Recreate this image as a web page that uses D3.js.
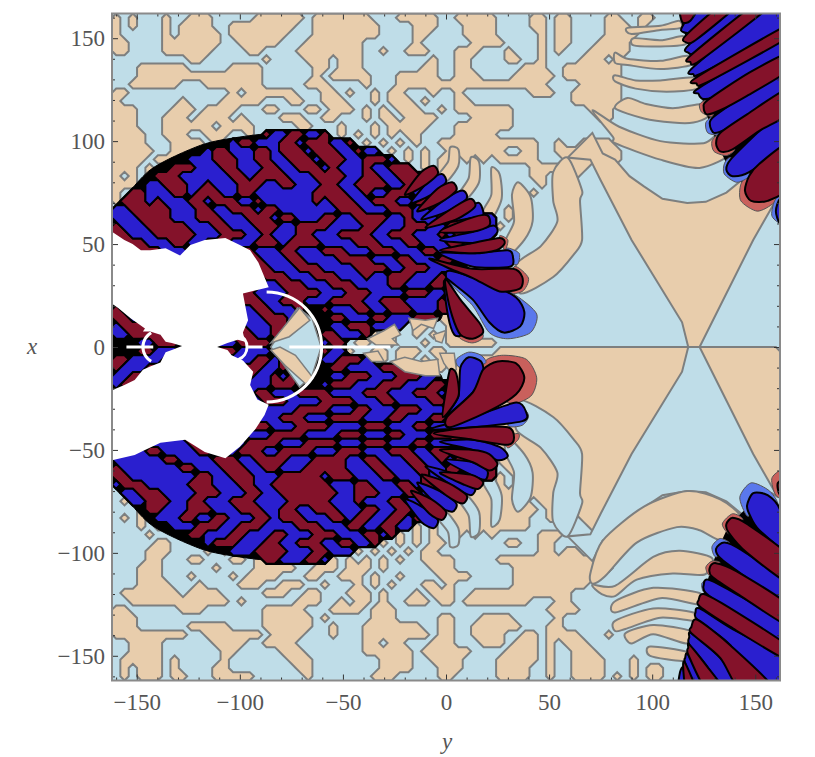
<!DOCTYPE html>
<html>
<head>
<meta charset="utf-8">
<script src="https://cdn.jsdelivr.net/npm/d3@7"></script>
<style>
body { margin: 0; background: #fff; }
text { font-family: "Liberation Serif", serif; fill: #555; }
</style>
</head>
<body>
<div id="chart"></div>
<script>
// sign of the function on a coarse sample grid
// t tan, . pale blue, R dark red, B dark blue. a short row repeats its last character
var fieldRows = [
"t.t...t..t tt.....ttt ttt.tttttt t...ttttt. .ttttt.... tt.tt....t t..tt.....",
"t.t...t.tt tt..tttttt tt..tttttt tt....ttt. ..tttt.... tt.tt....t tt.t......",
"t.....t.tt ttt.tttttt t...tttttt tt....tt.. ..tttt.... .t.tt....t ttt.......",
"tt....tttt ttt..ttttt ...ttttttt ......t... ...tttt... .t.tt...tt tt........",
"tt....tttt tt....tt.. ..tttttttt ..t..ttt.. .ttt...t.. .t.t...ttt tt........",
".........t t.......t. ...ttt.ttt ........t. .tt....tt. .t....ttt. t.........",
"...tttttt. ....tttt.. ....tt.ttt .......tt. .tt......t tt..tttttt t.........",
"...ttttttt tttttttt.. ....t.tttt t...ttttt. .ttt....tt ttt.tttttt t.........",
"..tttttt.. .ttttttt.. ...ttt.... t...tttttt tttttttttt tt....tttt t.........",
"tt........ ....t.tttt tt...tt.t. .t.tt...t. .t........ ttt..ttttt t.........",
"t.......t. ...ttttt.. .tt..ttt.. .t.ttt.t.. .tt....... .....ttttt t.........",
"ttt....ttt .tttt...tt ...tt.ttt. t.t.ttt..t .ttttttt.. .......ttt .",
"ttt...ttt. tttt.t.... ttt..tt... t.tt.tttt. ...ttttt.. ........tt .",
"ttt...tttt tt.tttt... ..tt...t.. .t.ttttt.. .ttttttt.. .",
"tttt..ttt. .ttt..t.RB BRRBBR.t.t .t.t.tt... .ttttt.... .",
"tttt...ttt t.t.BRRBBB RRBRRRBBR. t.t.t.t..t tttttttttt t..t..tttt .",
"ttttt..ttt tBRRBBBRRB RRRBRRRBBR BB.t.t.t.. ttttttt..t t..ttttttt t.",
"tttt.ttt.B BBRRRBBRRB BRRRBRRRBB RRRB.t.t.t t.t.t.tttt t...tttttt t.",
"ttt.t..RRR BBBRRBBBRR BBRRRBRBBB RBBRRR.t.t .......... tttt.tt...",
"t.t.tRRRBB BBBBRRBRRR RBBBRRRRBB RRBBRRRB.t .......... tt..tt....",
"ttt.BBRRRB BRBBBRRRBB RRBBBRRBBR RRRBBRBBR. .......... .t.t......",
"t.RRBBBRRB RRRBBRRBBB BBBBRRRRBB RBBRRRBBRB B......... t.",
"tRRRBRBBBR RBRRRBBRBB BBBBRBRRRB BRRRBBRRBB BR........",
"BBRRRRRBBB RRBBRRRBRR BBBBBBBRRR BBBRRRBBRR RBRB.t.t..",
"BBBRRRRBBB RRRBBBRRRB RRBBBRRBBR RRRBBRBBBR BRBRBB.t..",
"RBBBRRRRRB BBRRBBBRRR BBRRRRBBBB RRBBBRRRBB RRBBRBt...",
"RRBBBRRRRR BBBRRRBBRB BBRRBBBRRR RBBRRRBBBR BRRBBR....",
"RRRRBBBRRB BRRRBBBRRR BRRRRBBBBR RRBBBRRBBB RRBBR.....",
"RRRRRRBBBR BBBRRRRBBB RRBBBRRRBB BRRRBBBRRB BR........",
"BRRRRRRRBB RRBBBRRRBB BRRBBBBRRR RBBBRRBBBR RB........",
"BBBRRRRRRB BRRRBBRRRB BBRRRBBBBR RRRBBRRRBB B.........",
"RBBBBRRRRR BBBRRRBBRR RBBBRRRBBB RBBRRRBBBR .",
"RRBBBBRRRR RRBBBRRRBB RRRBBBRRRB BBBRRBBBRR .",
"BRRRBBBRRR RRRBBRRBBB BRRRRBBBRR RBBBBRRRBB .",
"BBRRRRBBBR RRBBBRRRBB RRRBBBRRRR BBRRRBBBBR .",
"RBBBRRRBBB RRRRBBBRRB BBRttRBBBR RBBRRRBBBR R.",
"RRBBBBRRBB BRRRRBBBRR RBt..tRRBB BRRBBBRRRt t.",
"BRRRBBBRRB BBRRRRBBBR RBt.t.BBRR RBBBB.tt.. t.",
"BBRRRRBBRR BBBRRRRBBR Btt..RRBBB Rt.t..t.t. ttt.",
"t.tBBRRRBB RRBBBRRRRB .tt..BRR.t t..t...t.. tttttt....",
".t.RRBBBRR BBRRRBBBBR t..ttRBBt. .tt.ttt.tt ......tttt",
"RRBBBBRRBB RRRBBBBRRB R..ttBBRRR B.t.tt.t.t ...t",
"RBBBRRRBBR RBBBBRRRBB RB.t.tRRBB BBRRRt..tt .t",
"BBRRRBBBRR BBBBRRRBBR BR.tt.BBRR RBBBRRRBB. .t",
"BRRRBBBRRR RBBBRRBBBR RRB..BRRRB BBRRRBBBRR Bt",
"RBBBRRRBBB BRRRBBBRRB BBRRRRBBBB RRRBBBRRRB t",
"RRBBBBRRRB BBRRRRBBRR RBBBBRRRRB BBRRBBBBRR t",
"BBRRRBBBRR RBBBBRRRBB BBRRRRBBBR RBBBRRRBBB t",
"BBBRRRRBBB RRRBBRRBBB RRRBBBRRRR BBBRRBBBRR t",
"RBBBBRRRBB BRRBBBRRRB BBRRRRBBBB RRRBBBRRBB Bt",
"RRBBBBBRRR BBBRRRBBBR RRRBBBBRRR BBBRRBBBRR RRt",
"BBRRBBBBBR RRRBBBRRRR BBBRRRRBBB RRRBBBRRBB BRt",
"BBBBRRBBBB RRBBBRRRBB RRRRBBBRRR BBBRRRBBRR RBRBRt",
"BBBBBBRRBB BBRRRBBRRR RBBBRRRRBB RRBBBRRBBR BRRBBRt",
"RBBBBBBBRR BBBRRRBBRR BBBRRRRRBB BRRBBBRRBB RRBRBR.t",
"RRBBBBBBBB RRBBRRRBBB RRRRRBRRRB BBRRBBBRBB RBRBRRt.t",
"BRRRBBBBBR RRBBBRRBBR RRRRRRBBBR RBBBRRBRRB BRBRt.t.t",
".BBRRRBBBB RRRBBBRRBB RRRRRRRBBR RRBBBRRBBB RBtttttttt tttttttttt .",
".tBBRRRBBR RBBBRRRBBB BRRRRRBBBR BBBRRBBRRB Rttttttttt .ttttttttt .",
"...tRRBBBR RRBBBRRRBB RRBBRRRBBB RRBBRRBBBt tttttttttt t.t.tttttt .",
".t.t.BBBRR BBRRBBBRRB RRRBBBRRBR RBBRRBRRt. tttttttttt ..tt..tttt .",
"...t.ttBBB RRRBBRRRBB BBRRRBBBRR BBRRBBt.t. tttttttttt ....t..ttt .",
"....t...tR RBBBRRBBBR RBBBRRRBBB RRBRt.t.t. .t.t.t.... .ttt......",
".....tt... .BRRRBBBRR BBRRRBBRRB BRt.t.t.tt .......tt. .tt.......",
"....ttt... .t.tBBBRRR RBBBRRBBBt .t.t.t.tt. .......... .tt.tt....",
"....tt...t t...tt.tRR BBBRRBt.t. t.t.t..ttt t.....tttt tttttttttt .",
"...ttt.... ..t....ttt tt..ttt.tt t.t.....tt t.......tt tttttttttt .",
"...ttt...t ....t.tttt ...tt..ttt .t..t....t ttt.....tt tttttttt.. .",
"...tttt... t....ttt.. ttt..t...t .t.t...tt. t.......tt ttttttt... .",
".ttttttt.t ttt.....tt t..tt...tt t.t...t.tt t..ttttttt ttttt..... .",
"..tttttttt tttt.t.... ..ttt..t.t t.t..ttt.t t.tttttttt ...tt..... .",
"tt......tt t.......tt ttt...tttt .ttt...... .......... ..tttt.... .",
"ttt....... ........tt tttt.t.... .ttt.....t t...tttt.. ...t...... .",
"ttt......t tttt....tt tttt..t... ttttttt..t t..tttttt. ..tt...... .",
"ttttttttt. .ttttttt.t ttt...t... tttttttt.t t..tttt..t t.tttt...t .",
"..tttt.... ..tttt..tt tt........ tt.tt...tt t...ttt.tt t.t.ttt... .",
"..tttt.... ...tt..... ttt....... tttttt.ttt ttt....ttt t.t..ttt.. .",
".ttttt.t.. ...t...... .ttt...... ..tttt..tt tt....tttt t.t..tttt. ..t.......",
".t.ttt.t.. ..tt...... ..tt...... ..tttt...t tt....tttt ..t..tttt. ..t.tt....",
".t.ttt.tt. ..ttttt... ...t...... .ttt.....t t.....tttt ..t..tttt. t.t.tt...."
];
var gridSize = 80;

// tick values of the frame
var majorTicks = [-150, -100, -50, 0, 50, 100, 150];
var minorTicks = [-160, -140, -130, -120, -110, -90, -80, -70, -60, -40, -30, -20, -10, 10, 20, 30, 40, 60, 70, 80, 90, 110, 120, 130, 140, 160];

// smooth parts on the right, points are [y, x]
var tanAngular = [
  [[71,104],[76,94],[82,91],[89,83],[96,78],[105,72],[117,70],[126,70.5],[136,75],[147,84],[158,71],[161,73],[149,52],[123,0],[117.5,0],[114.5,12],[90,52],[75,81],[70,91],[59,92]]
];
var blueAngular = [
  [[71,-104],[76,-94],[82,-91],[89,-83],[96,-78],[105,-72],[117,-70],[126,-70.5],[136,-75],[147,-84],[158,-71],[161,-73],[149,-52],[123,0],[117.5,0],[114.5,-12],[90,-52],[75,-81],[70,-91],[59,-92]]
];
var blueSmooth = [
  [[36,-26],[52,-34],[62,-45],[66,-52],[65,-71],[66,-76],[59,-92],[52,-85],[52,-71],[54,-61],[46,-49],[34,-40]],
  [[29,-43],[38,-52],[42,-61],[41,-73],[35,-80],[32,-74],[33,-61],[29,-52]],
  [[22,-62],[27,-72],[26,-84],[22,-87],[22,-74],[18,-66]],
  [[10,-72],[16,-80],[16,-90],[12,-92],[11,-82],[6,-74]],
  [[0,-80],[6,-88],[6,-96],[2,-97],[1,-90],[-4,-83]]
];
var tanSmooth = [
  [[36,26],[52,34],[62,45],[66,52],[65,71],[66,76],[59,92],[52,85],[52,71],[54,61],[46,49],[34,40]],
  [[29,43],[38,52],[42,61],[41,73],[35,80],[32,74],[33,61],[29,52]],
  [[22,62],[27,72],[26,84],[22,87],[22,74],[18,66]],
  [[10,72],[16,80],[16,90],[12,92],[11,82],[6,74]],
  [[0,80],[6,88],[6,96],[2,97],[1,90],[-4,83]],
  [[71,115],[84,107],[104,100],[125,99],[133,104],[138,94],[123,87],[104,91],[82,99],[81,102]],
  [[88,121],[97,118],[110,116],[125,118],[127,112],[120,109],[110,109],[96,111],[82,116]],
  [[82,132],[92,129.5],[104,129.5],[121,131],[122,125.5],[107,124],[92,125.5],[82,129]],
  [[82,143],[88,140],[104,139],[117,141.5],[119,137],[104,135],[88,137],[82,138]],
  [[91,150],[104,149],[115,151],[116,147],[104,146],[91,146.5]],
  [[88,155],[104,156],[113,158.5],[114,155],[104,154],[90,152]],
  [[70,-110],[76,-94],[96,-77.5],[117,-70],[133,-74],[143,-83],[134.5,-94],[123,-89],[112,-87.5],[92.5,-95],[77,-111.5],[71,-115]],
  [[82,-116],[100.5,-102],[113.5,-99],[129,-102.5],[125.5,-110.5],[110,-110],[92.5,-113],[82,-121],[75.5,-120],[71,-115.5]],
  [[82,-123.5],[100.5,-117],[123,-119.5],[122.5,-125],[104,-122],[82,-129]],
  [[82,-133],[100.5,-127],[120,-129],[121,-133],[104,-131.5],[87,-137],[82,-138]],
  [[87,-139],[100.5,-135],[118.5,-138],[116.5,-144],[100.5,-139.5],[90,-144]],
  [[99,-145.5],[116.5,-148],[115,-152.5],[99,-150]]
];

// black ground under the dark disc and the two corner fans
var blackDisc = [[-167,64],[-162,65.5],[-143.5,86],[-119,98],[-100,102],[-80.5,104],[-61,103],[-46.5,98],[-22,86],[2,66.5],[21,52],[11.5,40],[0.5,34],[-3,13],[-22,14],[-32,10.7],[-42,6],[-51,0.5],
  [-42,-6],[-32,-10.7],[-22,-14],[-3,-13],[0.5,-34],[11.5,-40],[21,-52],[2,-66.5],[-22,-86],[-46.5,-98],[-61,-103],[-80.5,-104],[-100,-102],[-119,-98],[-143.5,-86],[-162,-65.5],[-167,-64]];
var blackFans = [
  [[113,167],[114.5,156],[116.5,150],[118.5,143],[120.5,135],[122.5,126],[125,118],[128,108],[131.5,99],[137,87],[146,77],[152,73],[167,80],[167,167]],
  [[113,-167],[114.5,-156],[116.5,-150],[118.5,-143],[120.5,-135],[122.5,-126],[125.5,-118],[128.5,-108],[131.5,-99],[137,-87],[146,-78],[152,-74],[167,-80],[167,-167]]
];

// pale wedge inside the white circle, and the tan patches in the eye on the axis
var wedgeBlue = [[[-85,0],[-72,19],[-65,14],[-60.5,0],[-65,-14],[-71,-19.5]]];
var wedgeTan = [
  [[-85,2],[-71,19],[-66,13],[-76,5]],
  [[-85,-1.5],[-78,-9],[-68,-18],[-64.5,-15],[-73,-4],[-80.5,0]]
];
var eyeTan = [
  [[-38,4],[-30,8],[-25,11],[-22,6],[-26,4],[-23,1],[-34,1]],
  [[-18,14],[-10,13],[-4,14],[-6,9],[-12,11],[-16,8]],
  [[-6,6],[0,8],[-2,2],[-5,3]],
  [[-27,-7],[-20,-5],[-12,-7],[-4,-6],[-3,-14],[-10,-14],[-20,-12]],
  [[-3,-3],[4,-3],[5,-11],[2,-12],[-1,-8]],
  [[-40,-3],[-33,-2],[-30,-7],[-36,-7]]
];

// pale halos round the lobe tips
var paleRed = [
  [[7,20],[18,6],[13,2],[6,5],[2,16]],
  [[33,39],[40,33.5],[37,27],[28.5,26.5]],
  [[26,54],[30,52],[28.5,47]],
  [[147,83],[143,79],[143,71],[151,66],[159,70],[162,76],[155,80]],
  [[133,104],[129,100],[130,95],[136,93],[140,96],[135,100]],
  [[127,120],[123,118],[124,114],[129,112],[130,116]],
  [[20,-6],[28,-4],[39,-6],[44,-15],[41,-24],[30,-27],[18,-12]],
  [[35,-42],[35,-45],[30,-49],[28,-44]],
  [[134,-86],[139,-81],[144,-84],[138,-91]],
  [[126,-107],[129,-104],[133,-105],[128,-111]],
  [[160,-72],[158,-64],[162,-60],[167,-60],[167,-75]]
];
var paleBlue = [
  [[0,34],[21,31],[34,25],[44,16],[41,7],[30,4],[21,7],[13,20]],
  [[29.5,48],[35.5,45.5],[34.5,40],[29,42]],
  [[138,92],[135,89],[135,84],[141,80],[147,83],[145,88]],
  [[130,112],[126,109],[127,104],[133,103],[134,106]],
  [[160,72],[158,64],[162,60],[167,60],[167,75]],
  [[5,-6],[11,-2.5],[17,-4],[19,-8],[7,-10]],
  [[34,-27],[40,-33],[37,-38],[30,-38]],
  [[142.5,-73],[148,-66],[157,-70],[161,-77.5],[150,-80],[146,-82]],
  [[129,-97],[133,-93],[138,-96],[131,-102]],
  [[124,-115],[126.5,-113],[128,-115],[125,-119]]
];

// dark lobes, near the axis first then the two fans in the corners
var lobeBlue = [
  [[-1,32],[4,27],[7,20],[9,12],[8,6],[4,6],[1,15]],
  [[0,34],[2,37],[21,31],[34,24],[38,17],[36,10],[28,7],[21,12],[13,23],[2,32]],
  [[-3,45.5],[13,45.5],[30,47],[32.5,43.5],[31,39],[13,39]],
  [[-3,52],[13,56],[23,59],[25,56],[21,52],[13,50.5]],
  [[-3,60],[9,67],[16,70],[18,64],[11.5,62.5]],
  [[-12,62],[0,72],[8,76],[10,72],[1,66]],
  [[-17,70],[-8,81],[-2,84],[0,80],[-7,74]],
  [[-14,-66],[-4,-77],[3,-80],[5,-76],[-3,-70]],
  [[-20,-74],[-12,-85],[-6,-88],[-4,-84],[-11,-78]],
  [[-10,-58],[4,-68],[12,-72],[14,-68],[5,-62]],
  [[162,114],[151,104],[138,91],[136,86],[139,83],[147,85],[167,99],[167,114]],
  [[167,135],[149,125],[130,112],[128,108],[130,104],[136,106],[147.5,113],[167,127]],
  [[167,151],[123,126],[122.5,123],[125,120.5],[133,123],[167,143]],
  [[159,167],[120,136],[120,132.5],[125,133.5],[167,157]],
  [[142.5,167],[117.5,146.5],[117.5,143],[122.5,144],[150.5,167]],
  [[123,167],[114.5,155.5],[115,153],[120,153.5],[134.5,167]],
  [[162,60],[160,66],[162,72],[167,72],[167,60]],
  [[0.5,-33],[6,-24],[7,-10],[11,-5],[17,-7],[18,-13],[13,-22]],
  [[-8,-40],[13,-34],[34,-27],[39,-32],[37,-36],[13,-39]],
  [[-3,-46],[13,-45],[26,-48.5],[30,-53],[25,-55],[13,-50]],
  [[0,-55],[13,-56],[20,-60],[19,-64.5],[12,-62]],
  [[146,-77],[149,-71],[156,-72],[162,-79],[167,-100],[152,-89],[147.5,-82]],
  [[131,-98],[135,-95],[143,-98.5],[167,-115.5],[167,-126],[143,-110],[133,-102.5]],
  [[125,-115.5],[127,-113],[139,-119],[167,-136],[167,-146],[139,-129],[126,-119.5]],
  [[121,-129],[123,-127],[138,-136.5],[167,-153],[167,-167],[152,-167],[138,-145],[122,-132.5]],
  [[118,-141],[119,-139],[133,-151],[143,-167],[135,-167],[126.5,-155],[118,-144.5]],
  [[116,-151],[117.5,-149.5],[126.5,-167],[121.5,-167],[116,-153.5]],
  [[113.5,-158],[115,-156],[116.5,-167],[112.5,-167]]
];
var lobeRed = [
  [[0,33],[7,23],[16,12],[18,7],[13,4],[7,6],[3,15],[0,28]],
  [[-8,43],[13,38],[32.5,38],[37,34],[36,28.5],[26,27],[13,33.5],[2,38]],
  [[-3,47],[13,50.5],[26,53],[28.5,50.5],[24.5,47],[13,45.5]],
  [[-3,56],[11.5,62.5],[20,64],[21,59],[13,56]],
  [[-10,58],[4,68],[12,72],[14,68],[5,62]],
  [[-14,66],[-4,77],[3,80],[5,76],[-3,70]],
  [[-20,74],[-12,85],[-6,88],[-4,84],[-11,78]],
  [[-12,-62],[0,-72],[8,-76],[10,-72],[1,-66]],
  [[-17,-70],[-8,-81],[-2,-84],[0,-80],[-7,-74]],
  [[167,99],[152,89],[147,83],[145,76],[148,71],[156,71],[167,78]],
  [[167,126],[146,113],[133,104],[131,99],[133,95],[139,96],[152,105],[167,114]],
  [[167,143],[147.5,133.5],[127,120],[125,116.5],[126.5,113],[133,115],[146,122],[167,135]],
  [[167,157],[121.5,131],[121.5,128],[126.5,128.5],[167,151]],
  [[150.5,167],[118.5,141.5],[118.5,138.5],[123,139],[159,167]],
  [[134.5,167],[116,151],[116.5,148],[121,149],[142.5,167]],
  [[113.5,167],[114.5,158],[118.5,158.5],[123,167]],
  [[2,-11],[5,-13],[6,-24],[-1.5,-34],[0,-21]],
  [[0.5,-34],[13,-22],[18,-11],[25,-7],[34,-8],[38,-15],[34,-23],[21,-31],[2,-39]],
  [[-6,-42],[13,-39],[30,-39],[33,-44],[30,-47.5],[13,-45]],
  [[-3,-50],[13,-50],[21,-52],[25,-57],[21,-60],[13,-56]],
  [[-3,-61],[12,-62],[18,-65.5],[15.5,-69],[9,-67]],
  [[162,-72],[161,-66],[167,-64],[167,-75]],
  [[136,-86],[139,-83],[146,-86],[167,-102],[167,-115],[146,-100],[137,-90]],
  [[128,-107],[131,-105],[141,-109],[167,-126],[167,-136],[143,-121],[129,-111.5]],
  [[122.5,-123],[125,-120],[138,-127],[167,-146],[167,-153],[138,-136],[123,-126]],
  [[119,-136],[122,-132.5],[138,-145],[160,-167],[143,-167],[133,-151],[119,-139]],
  [[117.5,-146],[118,-144.5],[126.5,-155],[135,-167],[126.5,-167],[117.5,-149.5]],
  [[115,-155],[116,-153.5],[121.5,-167],[116.5,-167]]
];

// region where nothing was computed
var whiteRegion = [[-167,56],[-162,56],[-156,52],[-152,50],[-148,47],[-143.5,47],[-136,48],[-129,44.5],[-124,49.5],[-117,52],[-107,53],[-100,49.5],[-95,47],[-91,41],[-86,29],
  [-98.5,26],[-96,13],[-98.5,7],[-97.5,2.5],[-101,3.5],[-106,2],[-111,0],[-106,-1.5],[-104,-4],[-98.5,-6.5],[-93.5,-12],[-95,-18.5],[-91.5,-25.5],[-86,-28],
  [-88,-33],[-92.5,-40],[-100,-48.5],[-107,-54],[-117,-51],[-126.5,-45],[-138.5,-46.5],[-146,-50],[-151,-52.5],[-162,-55],[-167,-55],
  [-167,-21],[-162,-21],[-156,-18.5],[-151,-16],[-147,-11],[-143.5,-9.5],[-138.5,-7.5],[-136,-2.5],[-133,-1.5],[-128,0.5],[-133,2],[-136,2.5],[-138.5,6],[-143.5,7.5],[-147,7.5],[-146,9],[-153,14],[-159,19],[-162,21],[-167,21]];
var whiteArcs = [[-87, 26.7, 0, 180], [-103, 6.5, 20, 160], [-139, 8, 210, 330]];
var whiteSegments = [[-76, -27], [-96, -89], [-155, -142]];

var width = 815;
var height = 757;
var xScale = d3.scaleLinear().domain([-162, 162]).range([112, 780]);
var yScale = d3.scaleLinear().domain([-162, 162]).range([680.5, 13.5]);
var colY = d3.scaleLinear().domain([0, gridSize]).range([-162, 162]);
var rowX = d3.scaleLinear().domain([0, gridSize]).range([162, -162]);

var rows = fieldRows.map(function (row) {
  var s = row.replace(/ /g, '');
  return s.padEnd(gridSize, s[s.length - 1]).slice(0, gridSize);
});

function field(chars) {
  var values = [];
  rows.forEach(function (row) {
    for (var i = 0; i < gridSize; i++) {
      values.push(chars.indexOf(row[i]) >= 0 ? 1 : 0);
    }
  });
  return d3.contours().size([gridSize, gridSize]).smooth(false).thresholds([0.5])(values)[0];
}

var gridPath = d3.geoPath(d3.geoTransform({
  point: function (c, r) {
    this.stream.point(xScale(colY(c)), yScale(rowX(r)));
  }
}));

function lineOf(curve) {
  return d3.line()
    .x(function (d) { return xScale(d[0]); })
    .y(function (d) { return yScale(d[1]); })
    .curve(curve);
}
var smooth = lineOf(d3.curveCardinalClosed.tension(0.2));
var sharp = lineOf(d3.curveLinearClosed);

var svg = d3.select('#chart').append('svg')
  .attr('width', width)
  .attr('height', height)
  .style('display', 'block');

svg.append('clipPath').attr('id', 'frame').append('rect')
  .attr('x', xScale(-162)).attr('y', yScale(162))
  .attr('width', xScale(162) - xScale(-162))
  .attr('height', yScale(-162) - yScale(162));

var plot = svg.append('g').attr('clip-path', 'url(#frame)').style('filter', 'blur(0.4px)');

plot.append('rect')
  .attr('x', xScale(-162)).attr('y', yScale(162))
  .attr('width', xScale(162) - xScale(-162))
  .attr('height', yScale(-162) - yScale(162))
  .attr('fill', '#bfdde8');

var grey = '#7d7f7f';

plot.append('path').attr('d', gridPath(field('t')))
  .attr('fill', '#e8cdac').attr('stroke', grey).attr('stroke-width', 2);

function addShapes(list, line, fill, stroke, strokeWidth) {
  plot.append('g').selectAll('path').data(list).enter().append('path')
    .attr('d', line)
    .attr('fill', fill)
    .attr('stroke', stroke)
    .attr('stroke-width', strokeWidth);
}

addShapes(blueAngular, sharp, '#bfdde8', grey, 2);
addShapes(blueSmooth, smooth, '#bfdde8', grey, 2);
addShapes(tanAngular, sharp, '#e8cdac', grey, 2);
addShapes(tanSmooth, smooth, '#e8cdac', grey, 2);

addShapes([blackDisc], smooth, '#000', '#000', 1);
addShapes(blackFans, sharp, '#000', 'none', 0);

plot.append('path').attr('d', gridPath(field('RB')))
  .attr('fill', '#000').attr('stroke', '#000').attr('stroke-width', 2.5);
plot.append('path').attr('d', gridPath(field('R')))
  .attr('fill', '#84122a').attr('stroke', '#000').attr('stroke-width', 2);
plot.append('path').attr('d', gridPath(field('B')))
  .attr('fill', '#2a1fcf').attr('stroke', '#000').attr('stroke-width', 2);

addShapes(wedgeBlue, sharp, '#bfdde8', grey, 1.5);
addShapes(wedgeTan, sharp, '#e8cdac', grey, 1.5);
addShapes(eyeTan, sharp, '#e8cdac', grey, 1.5);

addShapes(paleRed, smooth, '#c9605c', '#555', 1);
addShapes(paleBlue, smooth, '#5a78ec', '#555', 1);
addShapes(lobeBlue, smooth, '#2a1fcf', '#000', 2);
addShapes(lobeRed, smooth, '#84122a', '#000', 2);

plot.append('path').attr('d', sharp(whiteRegion)).attr('fill', '#fff');

var rad = Math.PI / 180;
plot.append('g').selectAll('path').data(whiteArcs).enter().append('path')
  .attr('transform', function (d) { return 'translate(' + xScale(d[0]) + ',' + yScale(0) + ')'; })
  .attr('d', function (d) {
    var r = xScale(d[1]) - xScale(0);
    return d3.arc()({ innerRadius: r - 1.5, outerRadius: r + 1.5, startAngle: d[2] * rad, endAngle: d[3] * rad });
  })
  .attr('fill', '#fff');

plot.append('g').selectAll('line').data(whiteSegments).enter().append('line')
  .attr('x1', function (d) { return xScale(d[0]); })
  .attr('x2', function (d) { return xScale(d[1]); })
  .attr('y1', yScale(0))
  .attr('y2', yScale(0))
  .attr('stroke', '#fff')
  .attr('stroke-width', 3);

// frame and ticks, all four sides with the ticks pointing in
function addAxis(axis, transform, values, size, labels) {
  var g = svg.append('g').attr('transform', transform)
    .call(axis.tickValues(values).tickSize(size).tickSizeOuter(0).tickFormat(labels ? d3.format('d') : ''));
  g.select('.domain').remove();
  g.selectAll('line').attr('stroke', '#333').attr('stroke-width', 1);
  g.selectAll('text').attr('font-size', 23).style('fill', '#555');
  return g;
}

var bottomY = yScale(-162);
var topY = yScale(162);
var leftX = xScale(-162);
var rightX = xScale(162);

[[minorTicks, 3], [majorTicks, 6]].forEach(function (set) {
  addAxis(d3.axisBottom(xScale), 'translate(0,' + topY + ')', set[0], set[1], false);
  addAxis(d3.axisTop(xScale), 'translate(0,' + bottomY + ')', set[0], set[1], false);
  addAxis(d3.axisRight(yScale), 'translate(' + leftX + ',0)', set[0], set[1], false);
  addAxis(d3.axisLeft(yScale), 'translate(' + rightX + ',0)', set[0], set[1], false);
});

addAxis(d3.axisBottom(xScale).tickPadding(13), 'translate(0,' + bottomY + ')', majorTicks, 0, true);
addAxis(d3.axisLeft(yScale).tickPadding(7), 'translate(' + leftX + ',0)', majorTicks, 0, true);

svg.append('rect')
  .attr('x', leftX).attr('y', topY)
  .attr('width', rightX - leftX).attr('height', bottomY - topY)
  .attr('fill', 'none').attr('stroke', '#8a8a8a').attr('stroke-width', 2);

svg.append('text').attr('x', 32).attr('y', 354).attr('text-anchor', 'middle')
  .attr('font-size', 23).attr('font-style', 'italic').text('x');
svg.append('text').attr('x', 447).attr('y', 749).attr('text-anchor', 'middle')
  .attr('font-size', 23).attr('font-style', 'italic').text('y');
</script>
</body>
</html>
